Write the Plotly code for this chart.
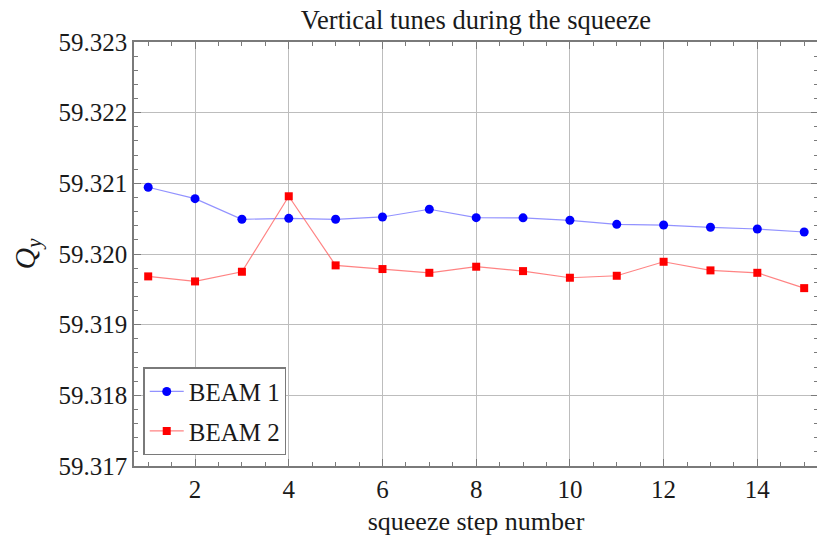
import plotly.graph_objects as go

# squeeze steps and measured vertical tunes
steps = list(range(1, 16))
beam1_qy = [59.320945, 59.320783, 59.320491, 59.320505, 59.320491, 59.320524,
            59.320633, 59.320514, 59.320512, 59.320477, 59.320420, 59.320410,
            59.320378, 59.320354, 59.320311]
beam2_qy = [59.319683, 59.319612, 59.319749, 59.320817, 59.319839, 59.319787,
            59.319734, 59.319820, 59.319758, 59.319664, 59.319692, 59.319890,
            59.319768, 59.319734, 59.319517]

x_ticks = [2, 4, 6, 8, 10, 12, 14]
y_ticks = [59.317, 59.318, 59.319, 59.320, 59.321, 59.322, 59.323]

FONT = 'Liberation Serif'
FRAME = '#7a7a7a'
GRID = '#bdbdbd'

fig = go.Figure()

fig.add_trace(go.Scatter(
    x=steps, y=beam1_qy, mode='lines+markers', name='BEAM 1', legendgroup='b1',
    line=dict(color='rgba(100,100,255,0.7)', width=1.2),
    marker=dict(color='#0000ff', size=9, symbol='circle'),
))
fig.add_trace(go.Scatter(
    x=steps, y=beam2_qy, mode='lines+markers', name='BEAM 2', legendgroup='b2',
    line=dict(color='rgba(255,100,100,0.8)', width=1.2),
    marker=dict(color='#ff0000', size=8, symbol='square'),
))

# the page body adds an 8px offset, so the figure is 8px smaller than the window
fig.update_layout(
    width=817, height=533,
    margin=dict(l=126, r=7, t=34, b=75),
    paper_bgcolor='white', plot_bgcolor='white',
    font=dict(family=FONT, color='#1a1a1a', size=24),
    title=dict(text='Vertical tunes during the squeeze', x=0.5, xref='paper',
               y=1 - 12 / 533, yref='container', xanchor='center', yanchor='middle',
               font=dict(family=FONT, size=26.5, color='#1a1a1a')),
    legend=dict(x=0.0135, y=0.233, xanchor='left', yanchor='top',
                bgcolor='white', bordercolor=FRAME, borderwidth=1.5,
                font=dict(family=FONT, size=25), itemwidth=34,
                tracegroupgap=4),
)

fig.update_xaxes(
    range=[0.697, 15.295], tickvals=x_ticks, ticktext=[str(v) for v in x_ticks],
    showline=True, linecolor=FRAME, linewidth=1.5, mirror='ticks',
    ticks='inside', ticklen=7, tickcolor=FRAME, tickwidth=1,
    showgrid=True, gridcolor=GRID, gridwidth=1, zeroline=False, automargin=False,
    minor=dict(dtick=0.5, tick0=1, ticks='inside', ticklen=4, tickcolor=FRAME, showgrid=False),
    tickfont=dict(family=FONT, size=25),
    title=dict(text='squeeze step number', font=dict(family=FONT, size=26), standoff=10),
)
fig.update_yaxes(
    range=[59.317, 59.323], tickvals=y_ticks, ticktext=[f'{v:.3f}' for v in y_ticks],
    showline=True, linecolor=FRAME, linewidth=1.5, mirror='ticks',
    ticks='inside', ticklen=7, tickcolor=FRAME, tickwidth=1,
    showgrid=True, gridcolor=GRID, gridwidth=1, zeroline=False, automargin=False,
    minor=dict(dtick=0.0002, tick0=59.317, ticks='inside', ticklen=4, tickcolor=FRAME, showgrid=False),
    tickfont=dict(family=FONT, size=25),
    title=dict(text='<i>Q</i><sub><i>y</i></sub>', font=dict(family=FONT, size=30), standoff=14),
)

fig.write_html('out.html')
